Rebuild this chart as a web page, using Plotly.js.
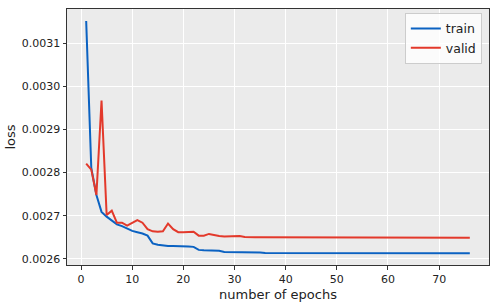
<!DOCTYPE html>
<html>
<head>
<meta charset="utf-8">
<script src="https://cdn.plot.ly/plotly-3.0.1.min.js"></script>
<style>html,body{margin:0;padding:0;background:#fff;}#chart{width:499px;height:304px;}</style>
</head>
<body>
<div id="chart"></div>
<script>
const epochs = [];
for (let i = 1; i <= 76; i++) epochs.push(i);

const trainLoss = [
  0.003151, 0.002810, 0.002748, 0.002709, 0.002698, 0.002688, 0.002680, 0.002676, 0.002670, 0.002665,
  0.002662, 0.002659, 0.002654, 0.002636, 0.002633, 0.002631, 0.002630, 0.002630, 0.002630, 0.002629,
  0.002629, 0.002628, 0.002621, 0.002620, 0.002620, 0.002620, 0.002619, 0.002616, 0.002616, 0.002616,
  0.002616, 0.002615, 0.002615, 0.002615, 0.002615, 0.002614, 0.002614, 0.002614, 0.002613, 0.002613,
  0.002613, 0.002613, 0.002613, 0.002613, 0.002613, 0.002613, 0.002613, 0.002613, 0.002613, 0.002613,
  0.002613, 0.002613, 0.002613, 0.002613, 0.002613, 0.002613, 0.002613, 0.002613, 0.002613, 0.002613,
  0.002613, 0.002613, 0.002613, 0.002613, 0.002613, 0.002613, 0.002613, 0.002613, 0.002613, 0.002613,
  0.002613, 0.002613, 0.002613, 0.002613, 0.002613, 0.002613
];

const validLoss = [
  0.002821, 0.002807, 0.002748, 0.002967, 0.002702, 0.002712, 0.002684, 0.002684, 0.002677, 0.002684,
  0.002690, 0.002684, 0.002669, 0.002664, 0.002663, 0.002664, 0.002682, 0.002669, 0.002662, 0.002662,
  0.002663, 0.002663, 0.002654, 0.002654, 0.002658, 0.002655, 0.002653, 0.002652, 0.002652, 0.002653,
  0.002653, 0.002651, 0.002650, 0.002650, 0.002650, 0.002650, 0.002650, 0.002650, 0.002650, 0.002650,
  0.002650, 0.002649, 0.002649, 0.002649, 0.002649, 0.002649, 0.002649, 0.002649, 0.002649, 0.002649,
  0.002649, 0.002649, 0.002649, 0.002649, 0.002649, 0.002649, 0.002649, 0.002649, 0.002649, 0.002649,
  0.002649, 0.002649, 0.002649, 0.002649, 0.002649, 0.002649, 0.002649, 0.002649, 0.002649, 0.002649,
  0.002649, 0.002649, 0.002649, 0.002649, 0.002649, 0.002649
];

const seriesNames = ['train', 'valid'];
const xTicks = [0, 10, 20, 30, 40, 50, 60, 70];
const yTicks = [0.0026, 0.0027, 0.0028, 0.0029, 0.0030, 0.0031];
const yTickLabels = ['0.0026', '0.0027', '0.0028', '0.0029', '0.0030', '0.0031'];

const FONT = 'DejaVu Sans, sans-serif';

const traces = [
  {x: epochs, y: trainLoss, name: seriesNames[0], mode: 'lines', type: 'scatter',
   line: {color: '#0b62c2', width: 2}},
  {x: epochs, y: validLoss, name: seriesNames[1], mode: 'lines', type: 'scatter',
   line: {color: '#e3392b', width: 2}}
];

const axisCommon = {
  showline: true, mirror: true, linecolor: '#333', linewidth: 1,
  ticks: 'outside', ticklen: 3.5, tickwidth: 1, tickcolor: '#333',
  gridcolor: '#ffffff', gridwidth: 1, zeroline: false,
  tickfont: {family: FONT, size: 11, color: '#222'}
};

const layout = {
  width: 499, height: 304,
  margin: {l: 67, r: 10, t: 9, b: 39},
  paper_bgcolor: '#ffffff', plot_bgcolor: '#ebebeb',
  font: {family: FONT, color: '#222'},
  showlegend: true,
  legend: {
    x: 0.983, y: 0.985, xanchor: 'right', yanchor: 'top',
    bgcolor: 'rgba(255,255,255,0.8)', bordercolor: '#cccccc', borderwidth: 1,
    font: {family: FONT, size: 12.5, color: '#222'}
  },
  xaxis: Object.assign({}, axisCommon, {
    range: [-2.75, 79.75], tickvals: xTicks,
    title: {text: 'number of epochs', font: {family: FONT, size: 13, color: '#222'}, standoff: 5}
  }),
  yaxis: Object.assign({}, axisCommon, {
    range: [0.002586, 0.003179], tickvals: yTicks, ticktext: yTickLabels,
    title: {text: 'loss', font: {family: FONT, size: 13, color: '#222'}, standoff: 3}
  })
};

Plotly.newPlot('chart', traces, layout, {displayModeBar: false, staticPlot: true});
</script>
</body>
</html>
